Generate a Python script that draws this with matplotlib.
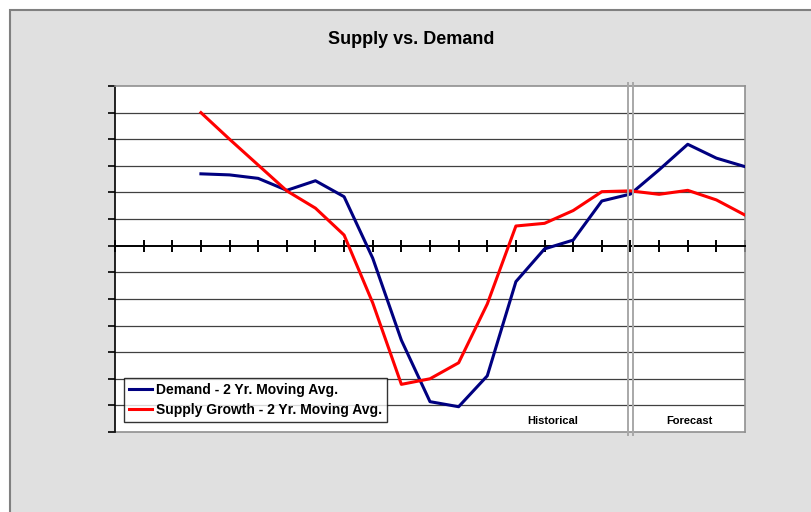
import numpy as np
import matplotlib.pyplot as plt
from matplotlib.patches import Rectangle

# Category positions 0..22 (points sit on tick marks); data starts at index 3
x_idx = list(range(3, 23))
demand = [2.70, 2.66, 2.53, 2.08, 2.44, 1.84, -0.47, -3.55, -5.86, -6.05,
          -4.89, -1.35, -0.12, 0.21, 1.68, 1.94, 2.85, 3.81, 3.29, 2.97]
supply = [5.00, 4.00, 3.03, 2.06, 1.41, 0.40, -2.15, -5.21, -5.00, -4.40,
          -2.19, 0.74, 0.84, 1.32, 2.03, 2.06, 1.93, 2.08, 1.72, 1.15]
split_idx = 18
n_ticks = 22

plt.rcParams['font.family'] = ['Liberation Sans', 'DejaVu Sans']

fig = plt.figure(figsize=(8.11, 5.12), dpi=100)
fig.patch.set_facecolor('white')

# grey chart area with a darker border (cropped at right/bottom)
bg = Rectangle((9.5 / 811, -0.1), 1.2, 1 - 9.5 / 512 + 0.1,
               transform=fig.transFigure, facecolor='#e0e0e0',
               edgecolor='#808080', linewidth=1.5, zorder=-10)
fig.patches.append(bg)

ax = fig.add_axes([115 / 811, 1 - 432 / 512, 630 / 811, 346 / 512])
ax.set_zorder(1)
ax.set_facecolor('white')
ax.set_xlim(0, n_ticks)
ax.set_ylim(-7, 6)

# horizontal gridlines
for v in range(-6, 6):
    if v != 0:
        ax.axhline(v, color='#404040', lw=0.9, zorder=1)

ax.plot(x_idx, demand, color='#000080', lw=2.2, zorder=3,
        label='Demand - 2 Yr. Moving Avg.')
ax.plot(x_idx, supply, color='#ff0000', lw=2.2, zorder=3,
        label='Supply Growth - 2 Yr. Moving Avg.')

# spines
ax.spines['left'].set_color('black')
ax.spines['left'].set_linewidth(1.2)
for s in ['top', 'right']:
    ax.spines[s].set_color('#909090')
    ax.spines[s].set_linewidth(1.2)
ax.spines['bottom'].set_position(('data', 0))
ax.spines['bottom'].set_color('black')
ax.spines['bottom'].set_linewidth(1.4)
ax.axhline(-7, color='#909090', lw=1.2, clip_on=False, zorder=2)

ax.set_xticks(range(0, n_ticks + 1))
ax.set_xticklabels([])
ax.tick_params(axis='x', direction='inout', length=9, width=1.4, color='black')
ax.set_yticks(range(-7, 7))
ax.set_yticklabels([])
ax.tick_params(axis='y', direction='out', length=5, width=1.2, color='black')

# historical / forecast separator
for dx in (-0.08, 0.08):
    ax.plot([split_idx + dx] * 2, [-7.1, 6.1], color='#a8a8a8', lw=1.4,
            clip_on=False, zorder=4)

ax.text(15.3, -6.6, 'Historical', ha='center', va='center',
        fontsize=8, fontweight='bold')
ax.text(20.05, -6.6, 'Forecast', ha='center', va='center',
        fontsize=8, fontweight='bold')

leg = ax.legend(loc='lower left', bbox_to_anchor=(9 / 630, 10 / 346),
                fontsize=10, frameon=True, fancybox=False, borderpad=0.35,
                handlelength=1.65, handletextpad=0.3, labelspacing=0.42,
                borderaxespad=0)
leg.get_frame().set_edgecolor('black')
leg.get_frame().set_linewidth(1.0)
for t in leg.get_texts():
    t.set_fontweight('bold')
leg.set_zorder(5)

fig.text(411 / 811, 1 - 39 / 512, 'Supply vs. Demand', ha='center',
         va='center', fontsize=13, fontweight='bold')

fig.savefig('out.png', dpi=100, facecolor=fig.get_facecolor())
